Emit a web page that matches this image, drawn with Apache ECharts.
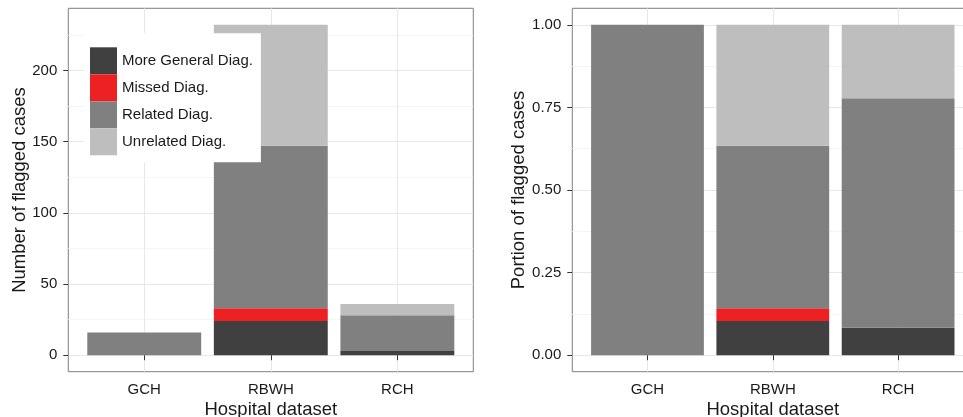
<!DOCTYPE html>
<html>
<head>
<meta charset="utf-8">
<script src="https://cdn.jsdelivr.net/npm/echarts@6/dist/echarts.min.js"></script>
<style>
html,body{margin:0;padding:0;background:#fff;}
#chart{width:963px;height:417px;}
</style>
</head>
<body>
<div id="chart"></div>
<script>
// ---- data ----
const categories = ['GCH', 'RBWH', 'RCH'];
const seriesNames = ['More General Diag.', 'Missed Diag.', 'Related Diag.', 'Unrelated Diag.'];
// counts (left panel)
const countMoreGeneral = [0, 24, 3];
const countMissed = [0, 9, 0];
const countRelated = [16, 114, 25];
const countUnrelated = [0, 85, 8];
// portions (right panel)
const portionMoreGeneral = [0, 0.1034, 0.0833];
const portionMissed = [0, 0.0388, 0];
const portionRelated = [1, 0.4914, 0.6945];
const portionUnrelated = [0, 0.3664, 0.2222];
// tick labels
const countTicks = [0, 50, 100, 150, 200];
const countMinor = [25, 75, 125, 175, 225];
const portionTicks = [0, 0.25, 0.5, 0.75, 1];
const portionMinor = [0.125, 0.375, 0.625, 0.875];
const xPositions = [1, 2, 3];

const colors = ['#404040', '#ED2024', '#808080', '#BEBEBE'];
const FONT = 'Liberation Sans, Arial, Helvetica, sans-serif';
const TXT = '#1a1a1a';

// panel geometry
const TOP = 8.3, H = 363.4;
const panels = [
  { left: 68.3, width: 405 },
  { left: 572.3, width: 401 }
];
const grids = [];
panels.forEach(p => {
  grids.push({ left: p.left, top: TOP, width: p.width, height: H, show: true,
    borderColor: '#7F7F7F', borderWidth: 1, backgroundColor: '#fff',
    containLabel: false, outerBoundsMode: 'none' });
});
panels.forEach(p => {
  const band = p.width / 3.2;
  grids.push({ left: p.left + band * 0.1, top: TOP, width: band * 3, height: H, show: false,
    containLabel: false, outerBoundsMode: 'none' });
});

function xAxisFor(gridIndex) {
  return {
    type: 'value', gridIndex, min: 0.4, max: 3.6,
    name: 'Hospital dataset', nameLocation: 'middle', nameGap: 29, nameMoveOverlap: false,
    nameTextStyle: { fontFamily: FONT, fontSize: 18.5, color: TXT },
    axisLine: { show: false },
    axisTick: { show: true, length: 5, customValues: xPositions, lineStyle: { color: '#333' } },
    axisLabel: { customValues: xPositions, margin: 11, fontFamily: FONT, fontSize: 15, color: TXT,
      formatter: v => categories[Math.round(v) - 1] },
    splitLine: { show: true, lineStyle: { color: '#E8E8E8', width: 1 } }
  };
}
function xAxisCat(gridIndex) {
  return { type: 'category', gridIndex, data: categories, show: false };
}
function yAxisMajor(gridIndex, min, max, ticks, name, gap, fmt) {
  return {
    type: 'value', gridIndex, min, max,
    name, nameLocation: 'middle', nameGap: gap, nameRotate: 90, nameMoveOverlap: false,
    nameTextStyle: { fontFamily: FONT, fontSize: 18.5, color: TXT },
    axisLine: { show: false },
    axisTick: { show: true, length: 5, customValues: ticks, lineStyle: { color: '#333' } },
    axisLabel: { customValues: ticks, margin: 11, fontFamily: FONT, fontSize: 15, color: TXT, formatter: fmt },
    splitLine: { show: true, lineStyle: { color: '#E8E8E8', width: 1 } }
  };
}
function yAxisMinor(gridIndex, min, max, ticks) {
  return {
    type: 'value', gridIndex, min, max, position: 'left',
    axisLine: { show: false },
    axisTick: { show: false, customValues: ticks },
    axisLabel: { show: false, customValues: ticks },
    splitLine: { show: true, lineStyle: { color: '#F5F5F5', width: 1 } }
  };
}
function yAxisHidden(gridIndex, min, max) {
  return { type: 'value', gridIndex, min, max, show: false, splitLine: { show: false } };
}

const countSets = [countMoreGeneral, countMissed, countRelated, countUnrelated];
const portionSets = [portionMoreGeneral, portionMissed, portionRelated, portionUnrelated];

const series = [];
seriesNames.forEach((n, i) => {
  series.push({ name: n, type: 'bar', stack: 'c', xAxisIndex: 2, yAxisIndex: 4,
    barWidth: '90%', itemStyle: { color: colors[i] }, data: countSets[i], z: 3 });
});
seriesNames.forEach((n, i) => {
  series.push({ name: n, type: 'bar', stack: 'p', xAxisIndex: 3, yAxisIndex: 5,
    barWidth: '90%', itemStyle: { color: colors[i] }, data: portionSets[i], z: 3 });
});

const chart = echarts.init(document.getElementById('chart'), null, { renderer: 'canvas' });
chart.setOption({
  animation: false,
  backgroundColor: '#ffffff',
  grid: grids,
  xAxis: [xAxisFor(0), xAxisFor(1), xAxisCat(2), xAxisCat(3)],
  yAxis: [
    yAxisMajor(0, -11.6, 243.6, countTicks, 'Number of flagged cases', 39, v => String(v)),
    yAxisMinor(0, -11.6, 243.6, countMinor),
    yAxisMajor(1, -0.05, 1.05, portionTicks, 'Portion of flagged cases', 43.5, v => v.toFixed(2)),
    yAxisMinor(1, -0.05, 1.05, portionMinor),
    yAxisHidden(2, -11.6, 243.6),
    yAxisHidden(3, -0.05, 1.05)
  ],
  legend: {
    data: seriesNames,
    orient: 'vertical', left: 84, top: 33.3,
    padding: [14, 8, 7, 6],
    itemWidth: 27, itemHeight: 27, itemGap: 0,
    icon: 'rect',
    backgroundColor: '#ffffff',
    textStyle: { fontFamily: FONT, fontSize: 15, color: TXT },
    z: 10
  },
  series
});
</script>
</body>
</html>
